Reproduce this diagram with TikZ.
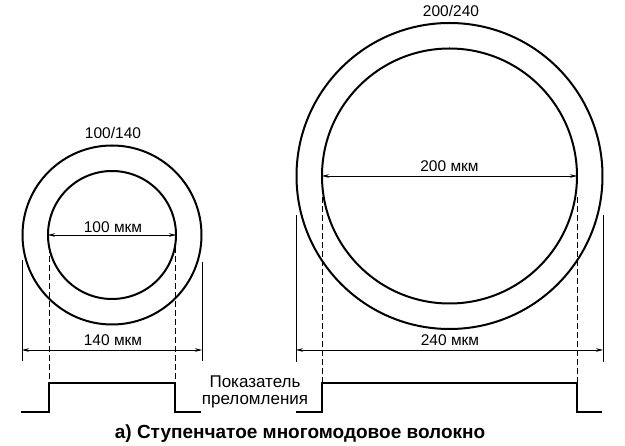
\documentclass[tikz,border=0pt]{standalone}
\usepackage{fontspec}
\setmainfont{Liberation Sans}
\usetikzlibrary{arrows.meta}

\tikzset{
  wand/.style={line width=2pt},
  masslinie/.style={line width=0.6pt,
    {Stealth[length=7pt,width=3.5pt]}-{Stealth[length=7pt,width=3.5pt]}},
  hilfslinie/.style={line width=0.6pt},
  strichlinie/.style={line width=0.6pt, dash pattern=on 6pt off 3pt},
  profil/.style={line width=1.6pt},
  beschr/.style={inner sep=0pt, font=\fontsize{15.5}{17}\selectfont},
}

\begin{document}
\begin{tikzpicture}[x=1pt,y=-1pt]
  \useasboundingbox (0,0) rectangle (625,446);

  % Волокно 100/140
  \coordinate (m1) at (112,235);
  \draw[wand] (m1) circle[radius=89.5];
  \draw[wand] (m1) circle[radius=64];
  \node[beschr] (typ1) at (113,133) {100/140};

  % Волокно 200/240
  \coordinate (m2) at (449.5,176);
  \draw[wand] (m2) circle[radius=153];
  \draw[wand] (m2) circle[radius=127.5];
  \node[beschr] (typ2) at (451,11) {200/240};

  % Сердцевина
  \coordinate (k1l) at (48,235);
  \coordinate (k1r) at (176,235);
  \draw[masslinie] (k1l) -- (k1r);
  \node[beschr] (kern1) at (113,227) {100 мкм};
  \coordinate (k2l) at (322,176);
  \coordinate (k2r) at (577,176);
  \draw[masslinie] (k2l) -- (k2r);
  \node[beschr] (kern2) at (449.5,166) {200 мкм};

  % Оболочка
  \coordinate (h1lo) at (22,260);  \coordinate (h1lu) at (22,361);
  \coordinate (h1ro) at (202,262); \coordinate (h1ru) at (202,361);
  \draw[hilfslinie] (h1lo) -- (h1lu);
  \draw[hilfslinie] (h1ro) -- (h1ru);
  \coordinate (a1l) at (22,350);   \coordinate (a1r) at (202,350);
  \draw[masslinie] (a1l) -- (a1r);
  \node[beschr] (mantel1) at (113,340) {140 мкм};

  \coordinate (h2lo) at (296,215); \coordinate (h2lu) at (296,362);
  \coordinate (h2ro) at (603,215); \coordinate (h2ru) at (603,362);
  \draw[hilfslinie] (h2lo) -- (h2lu);
  \draw[hilfslinie] (h2ro) -- (h2ru);
  \coordinate (a2l) at (296,350);  \coordinate (a2r) at (603,350);
  \draw[masslinie] (a2l) -- (a2r);
  \node[beschr] (mantel2) at (450,340) {240 мкм};

  % Пунктир к профилю
  \coordinate (s1lo) at (49,247);   \coordinate (s1lu) at (49,383);
  \coordinate (s1ro) at (175,247);  \coordinate (s1ru) at (175,383);
  \coordinate (s2lo) at (322,197);  \coordinate (s2lu) at (322,383);
  \coordinate (s2ro) at (577,197);  \coordinate (s2ru) at (577,383);
  \draw[strichlinie] (s1lo) -- (s1lu);
  \draw[strichlinie] (s1ro) -- (s1ru);
  \draw[strichlinie] (s2lo) -- (s2lu);
  \draw[strichlinie] (s2ro) -- (s2ru);

  % Профиль показателя
  \draw[profil] (21,412) -| (s1lu) -| (175,412) -- (201,412);
  \draw[profil] (296,412) -| (s2lu) -| (577,412) -- (602,412);
  \node[beschr, align=center, font=\fontsize{17}{16.5}\selectfont]
    (index) at (255,392) {Показатель\\преломления};

  % Подпись
  \node[inner sep=0pt, font=\fontsize{19}{20}\selectfont\bfseries]
    (titel) at (300,434) {а) Ступенчатое многомодовое волокно};
\end{tikzpicture}
\end{document}
